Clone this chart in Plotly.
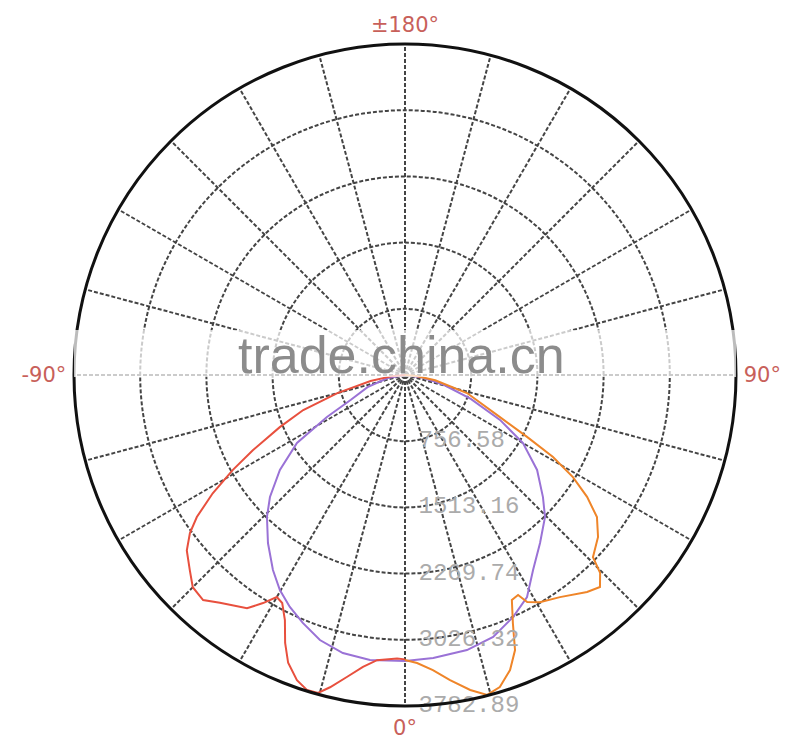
import plotly.graph_objects as go

# ---- data ----
# C-plane 1 (red, left half)
red_theta = [-90, -85, -80, -75, -71, -67.4, -63.7, -61.1, -58.4, -55.7, -53.7, -51.2,
             -47.8, -45, -41.9, -39.1, -34.1, -31.9, -30.0, -28.3, -26.1, -24.1, -22.1,
             -19.5, -17.3, -15.3, -13.5, -10.9, -8.2, -5.6, -1.6, 0]
red_r = [0, 150, 400, 800, 1230, 1550, 1940, 2250, 2580, 2880, 3050, 3200,
         3320, 3430, 3455, 3355, 3220, 3070, 2930, 2960, 3120, 3355, 3550,
         3700, 3770, 3768, 3670, 3515, 3370, 3275, 3240, 3250]

# C-plane 1 (orange, right half)
orange_theta = [0, 2.4, 5.4, 8.4, 11.7, 14.4, 16.9, 19.6, 21.8, 23.5, 25.4, 27.2, 28.3,
                30.7, 34.9, 40.0, 42.6, 44.6, 45.9, 50.0, 53.5, 56.2, 58.7, 61.0, 63.1,
                66.1, 73.8, 80, 85, 90]
orange_r = [3258, 3294, 3387, 3524, 3676, 3775, 3727, 3579, 3386, 3092, 2847, 2827, 2946,
            3019, 3095, 3237, 3292, 3176, 2991, 2880, 2729, 2504, 2246, 1934, 1564,
            1187, 738, 350, 130, 0]

# C-plane 2 (purple)
purple_theta = [-90, -80, -72, -65.4, -61.7, -57.8, -52.8, -47.9, -44.2, -39.2, -34.1,
                -30.2, -26.4, -22.4, -17.8, -12.6, -7.0, 0, 5.7, 12.7, 18.6, 24.1, 28.8,
                33.3, 38.8, 44.6, 48.5, 54.3, 60.0, 64.7, 70, 76, 82, 90]
purple_r = [0, 200, 450, 680, 1013, 1459, 1795, 2080, 2263, 2478, 2692,
            2843, 2960, 3065, 3181, 3256, 3282, 3269, 3251, 3222, 3159, 3029, 2895,
            2666, 2463, 2279, 2105, 1859, 1557, 1201, 800, 450, 200, 0]

radial_ticks = [756.58, 1513.16, 2269.74, 3026.32, 3782.89]
radial_labels = ["756.58", "1513.16", "2269.74", "3026.32", "3782.89"]
radial_label_theta = [0, 0, 0, 0, 0]

angle_ticks = list(range(0, 360, 15))
angle_label_map = {0: "0°", 90: "90°", 180: "±180°", 270: "-90°"}
angle_labels = [angle_label_map.get(a, "") for a in angle_ticks]

fig = go.Figure()
fig.add_trace(go.Scatterpolar(r=purple_r, theta=purple_theta, mode="lines",
                              line=dict(color="#9a72d6", width=2), name="C90"))
fig.add_trace(go.Scatterpolar(r=red_r, theta=red_theta, mode="lines",
                              line=dict(color="#e8503e", width=2), name="C0 left"))
fig.add_trace(go.Scatterpolar(r=orange_r, theta=orange_theta, mode="lines",
                              line=dict(color="#ef8529", width=2), name="C0 right"))
# radial value labels along the 0° ray
fig.add_trace(go.Scatterpolar(r=radial_ticks, theta=radial_label_theta,
                              mode="markers+text", text=radial_labels,
                              textposition="middle right",
                              marker=dict(size=20, color="rgba(0,0,0,0)"),
                              textfont=dict(family="Liberation Mono", size=24, color="#ababab"),
                              hoverinfo="skip"))

fig.update_layout(
    width=800, height=741,
    margin=dict(l=66, r=72, t=36, b=43),
    paper_bgcolor="white",
    showlegend=False,
    polar=dict(
        bgcolor="white",
        angularaxis=dict(
            rotation=-90, direction="counterclockwise",
            tickmode="array", tickvals=angle_ticks, ticktext=angle_labels,
            ticks="outside", ticklen=2, tickcolor="rgba(0,0,0,0)",
            showline=True, linecolor="#111111", linewidth=3,
            gridcolor="#444444", gridwidth=1.7, griddash="4px,2px",
            tickfont=dict(family="DejaVu Sans", size=21, color="#c8605a"),
        ),
        radialaxis=dict(
            range=[0, 3782.89], angle=-90,
            tickmode="array", tickvals=radial_ticks,
            ticks="", showline=False, showticklabels=False,
            gridcolor="#444444", gridwidth=1.7, griddash="4px,2px",
        ),
    ),
    shapes=[dict(type="rect", xref="paper", yref="paper", x0=0.0, x1=1.0,
                 y0=0.497, y1=0.568, fillcolor="rgba(255,255,255,0.72)",
                 line=dict(width=0), layer="above")],
    annotations=[dict(text="trade.china.cn", xref="paper", yref="paper",
                      x=0.494, y=0.530, showarrow=False,
                      font=dict(family="Liberation Sans Narrow, Liberation Sans", size=52,
                                color="#8c8c8c"))],
)

fig.write_html("out.html")
